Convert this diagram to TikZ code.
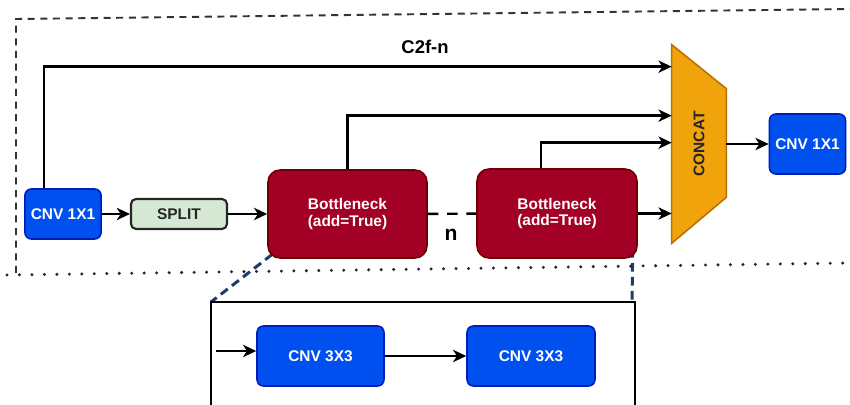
\documentclass[tikz,border=0pt]{standalone}
\usepackage{fontspec}
\setmainfont{Liberation Sans}
\usetikzlibrary{positioning,arrows.meta,calc,backgrounds}
\definecolor{cnvblue}{HTML}{0050EF}
\definecolor{cnvedge}{HTML}{001DBC}
\definecolor{bnred}{HTML}{A20025}
\definecolor{bnedge}{HTML}{6F0000}
\definecolor{catfill}{HTML}{F0A30A}
\definecolor{catedge}{HTML}{BD7000}
\definecolor{splitfill}{HTML}{D5E8D4}
\definecolor{zoomnavy}{HTML}{1F3A6E}

\begin{document}
\begin{tikzpicture}[x=0.02cm,y=-0.02cm,
    every node/.style={font=\bfseries\fontsize{8.8}{9.6}\selectfont},
    cnvbox/.style={draw=cnvedge,fill=cnvblue,text=white,line width=0.9pt,rounded corners=0.13cm},
    bnbox/.style={draw=bnedge,fill=bnred,text=white,line width=0.9pt,rounded corners=0.24cm,align=center},
    splitbox/.style={draw=black!85,fill=splitfill,text=black!85,line width=1.2pt,rounded corners=0.1cm},
    arr/.style={line width=1.4pt,-{Stealth[length=7.5pt,width=7pt,inset=2.2pt]}},
    zoomline/.style={draw=zoomnavy,line width=1.7pt,dash pattern=on 5pt off 3pt}]
  \useasboundingbox (0,0) rectangle (850,405);
  % Outer block border
  \draw[black!80,line width=1.1pt,dash pattern=on 4pt off 3.2pt] (16,273) -- (16,19) -- (850,9);
  \draw[black!85,line width=1.9pt,line cap=round,dash pattern=on 0pt off 7.1pt] (7,275) -- (850,263);
  % Main row
  \node[cnvbox,minimum width=1.48cm,minimum height=1cm] (cnvA) at (63,214) {CNV 1X1};
  \node[splitbox,minimum width=1.92cm,minimum height=0.6cm] (split) at (179,214) {SPLIT};
  \node[bnbox,minimum width=3.18cm,minimum height=1.76cm] (bnA) at (347.5,214) {Bottleneck\\(add=True)};
  \node[bnbox,minimum width=3.2cm,minimum height=1.78cm] (bnB) at (557,213.5) {Bottleneck\\(add=True)};
  \node[minimum width=1.08cm,minimum height=3.96cm,inner sep=0pt,text=black!85] (concat) at (699,144) {\rotatebox{90}{CONCAT}};
  \node[cnvbox,minimum width=1.42cm,minimum height=1.2cm] (cnvB) at (807.5,144) {CNV 1X1};
  \node[font=\bfseries\fontsize{10.5}{12}\selectfont] (title) at (425,47) {C2f-n};
  \node[font=\bfseries\fontsize{12}{14}\selectfont] (nlab) at (451,235) {n};
  \begin{scope}[on background layer]
    \draw[draw=catedge,fill=catfill,line width=0.9pt] (concat.north west) -- ([yshift=-0.88cm]concat.north east)
      -- ([yshift=0.92cm]concat.south east) -- (concat.south west) -- cycle;
    \draw[zoomline] ([shift={(0.32cm,0.26cm)}]bnA.south west) -- (211,302) coordinate (dtl);
    \draw[zoomline] ([shift={(-0.1cm,0.2cm)}]bnB.south east) -- (632,302) coordinate (dtr);
  \end{scope}
  % Connectors
  \draw[arr] (cnvA) -- (split);
  \draw[arr] (split) -- (bnA);
  \draw[line width=1.4pt,dash pattern=on 6pt off 5pt] (bnA) -- (bnB);
  \draw[arr] ([xshift=-0.38cm]cnvA.north) |- ([yshift=-0.44cm]concat.north west);
  \draw[arr] (bnA.north) |- ([yshift=-1.42cm]concat.north west);
  \draw[arr] ([xshift=-0.32cm]bnB.north) |- ([yshift=-1.96cm]concat.north west);
  \draw[arr] (bnB.east) -- (concat.west |- bnB.east);
  \draw[arr] (concat.east) -- (cnvB);
  % Bottleneck detail
  \draw[line width=1.3pt] (211,420) -- (dtl) -- (635,302) -- (635,420);
  \node[cnvbox,minimum width=2.54cm,minimum height=1.2cm] (cnvC) at (320.5,356) {CNV 3X3};
  \node[cnvbox,minimum width=2.56cm,minimum height=1.2cm] (cnvD) at (531,356) {CNV 3X3};
  \coordinate (inlet) at (216,351);
  \draw[arr] (inlet) -- (inlet -| cnvC.west);
  \draw[arr] (cnvC) -- (cnvD);
\end{tikzpicture}
\end{document}
